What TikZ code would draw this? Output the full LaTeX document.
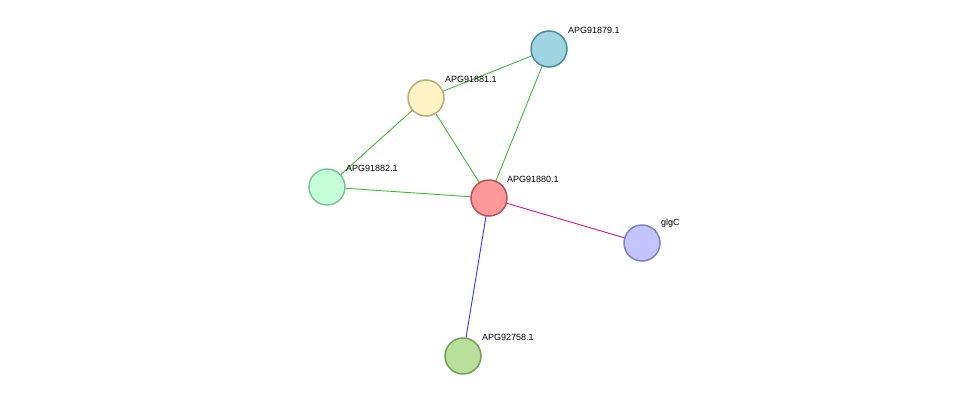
\documentclass[tikz,border=0pt]{standalone}
\usepackage{fontspec}
\setmainfont{Liberation Sans}
\begin{document}
\begin{tikzpicture}[x=1pt,y=-1pt,
  prot/.style={circle,minimum size=36pt,inner sep=0pt,line width=1.5pt},
  lab/.style={anchor=south west,inner sep=0pt,font=\fontsize{9}{10}\selectfont},
  ge/.style={draw={rgb,255:red,60;green,190;blue,50},line width=0.9pt}]
\useasboundingbox[fill=white] (0,0) rectangle (975,402);
\definecolor{c1}{HTML}{9ED5E0}\definecolor{b1}{HTML}{4E8C9C}
\definecolor{c2}{HTML}{FFF3C4}\definecolor{b2}{HTML}{B8AE7A}
\definecolor{c3}{HTML}{C4FFDA}\definecolor{b3}{HTML}{7EC49A}
\definecolor{c4}{HTML}{FF9999}\definecolor{b4}{HTML}{C05050}
\definecolor{c5}{HTML}{C4C4FF}\definecolor{b5}{HTML}{8080C0}
\definecolor{c6}{HTML}{B8E09A}\definecolor{b6}{HTML}{70A050}
\coordinate (p1) at (549,49);
\coordinate (p2) at (426,98);
\coordinate (p3) at (327,187);
\coordinate (p4) at (489,198);
\coordinate (p5) at (642,243);
\coordinate (p6) at (463,356);
\draw[ge] (p2)--(p1); \draw[ge] (p4)--(p1); \draw[ge] (p2)--(p3);
\draw[ge] (p2)--(p4); \draw[ge] (p3)--(p4);
\draw[magenta!80!purple,line width=0.9pt] (p4)--(p5);
\draw[blue!80,line width=0.9pt] (p4)--(p6);
\node[prot,fill=c1,draw=b1] (n1) at (p1) {};
\node[prot,fill=c2,draw=b2] (n2) at (p2) {};
\node[prot,fill=c3,draw=b3] (n3) at (p3) {};
\node[prot,fill=c4,draw=b4] (n4) at (p4) {};
\node[prot,fill=c5,draw=b5] (n5) at (p5) {};
\node[prot,fill=c6,draw=b6] (n6) at (p6) {};
\node[lab] (l1) at (568,34) {APG91879.1};
\node[lab] (l2) at (445,83) {APG91881.1};
\node[lab] (l3) at (346,172) {APG91882.1};
\node[lab] (l4) at (507,183) {APG91880.1};
\node[lab] (l5) at (661,228) {glgC};
\node[lab] (l6) at (482,341) {APG92758.1};
\end{tikzpicture}
\end{document}
